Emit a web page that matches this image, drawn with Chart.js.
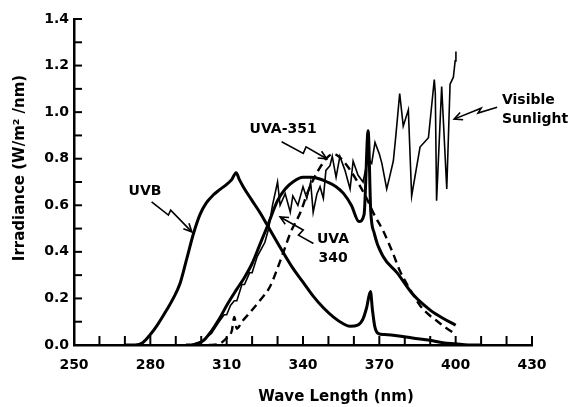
<!DOCTYPE html>
<html>
<head>
<meta charset="utf-8">
<script src="https://cdn.jsdelivr.net/npm/chart.js@4.4.1/dist/chart.umd.min.js"></script>
<style>
    html, body { margin: 0; padding: 0; background: #fff; }
    canvas { display: block; }
</style>
</head>
<body>
<canvas id="irradianceChart" width="587" height="407"></canvas>
<script>
// wavelength (nm) / irradiance (W/m2/nm)

const uvbNm  = [270, 274, 277, 280, 283, 286.4, 289, 291.7, 294.3, 297, 299.5, 302, 304.8, 307, 310, 312, 313.7, 315, 316.5, 320, 323, 325.7, 331, 336, 340, 344, 348, 352, 356, 358.5, 361.5, 363.5, 365, 366.5, 367.3, 368.2, 369.5, 372, 377, 383, 390, 395, 400, 405, 410];
const uvbVal = [0, 0, 0.01, 0.045, 0.09, 0.15, 0.20, 0.265, 0.37, 0.48, 0.56, 0.61, 0.645, 0.665, 0.69, 0.71, 0.74, 0.71, 0.68, 0.62, 0.57, 0.52, 0.42, 0.33, 0.27, 0.21, 0.16, 0.12, 0.09, 0.08, 0.085, 0.11, 0.16, 0.23, 0.15, 0.08, 0.05, 0.045, 0.04, 0.03, 0.02, 0.01, 0.005, 0, 0];

const uva340Nm  = [294, 296, 298, 301, 304, 307, 310, 314, 317, 320, 323, 326, 330, 333, 336, 340, 343, 346, 349.5, 353, 356, 359, 362, 364, 365.6, 366.6, 368, 371.5, 377, 383, 390, 395, 400];
const uva340Val = [0, 0, 0.005, 0.02, 0.06, 0.11, 0.17, 0.24, 0.29, 0.35, 0.43, 0.51, 0.62, 0.67, 0.70, 0.72, 0.72, 0.715, 0.70, 0.68, 0.65, 0.60, 0.53, 0.56, 0.92, 0.58, 0.48, 0.38, 0.31, 0.22, 0.15, 0.115, 0.085];

const uva351Nm  = [303, 307, 310, 312, 313, 314, 316, 320, 323, 327, 330, 333, 335, 339, 342, 346, 350, 352, 355, 358, 362, 365, 368, 371.5, 375.5, 378, 382, 386, 390, 393, 396, 399.5];
const uva351Val = [0, 0.005, 0.03, 0.06, 0.12, 0.07, 0.10, 0.15, 0.19, 0.25, 0.33, 0.42, 0.48, 0.57, 0.66, 0.75, 0.81, 0.82, 0.80, 0.76, 0.69, 0.63, 0.56, 0.49, 0.39, 0.32, 0.24, 0.17, 0.125, 0.10, 0.075, 0.05];

const sunNm  = [296, 300, 304, 307, 309, 310, 311.5, 313, 314, 316, 317, 319, 320, 322, 324, 325, 326.5, 328, 330, 331, 333, 335, 336, 338, 340, 341.5, 343, 344, 345.5, 346.7, 348, 349, 350.6, 351.5, 353, 354.5, 356.5, 358.5, 359.7, 361.6, 363.6, 365.5, 367, 368.3, 370, 371, 372.9, 374, 375.5, 376.5, 378, 379.4, 381.4, 382.7, 386, 389.3, 391.6, 392, 392.5, 394.5, 396.5, 397.8, 399.1, 399.8, 400.1];
const sunVal = [0, 0.015, 0.05, 0.10, 0.13, 0.13, 0.17, 0.19, 0.19, 0.26, 0.26, 0.31, 0.31, 0.38, 0.42, 0.44, 0.50, 0.60, 0.70, 0.60, 0.65, 0.57, 0.64, 0.60, 0.68, 0.63, 0.70, 0.57, 0.65, 0.68, 0.63, 0.75, 0.77, 0.81, 0.72, 0.81, 0.75, 0.67, 0.79, 0.73, 0.70, 0.80, 0.78, 0.87, 0.82, 0.78, 0.67, 0.72, 0.79, 0.90, 1.08, 0.94, 1.01, 0.64, 0.85, 0.89, 1.14, 1.08, 0.62, 1.11, 0.67, 1.12, 1.15, 1.22, 1.26];

const xLabels = [250, 280, 310, 340, 370, 400, 430];

// labels with zigzag arrows, positions in data units (nm, irradiance)
const notes = [
    { text: ["UVB"], at: [277.9, 0.66], align: "center",
      arrow: [[280.5, 0.615], [287.1, 0.558], [288, 0.579], [296.3, 0.486]] },
    { text: ["UVA-351"], at: [332.2, 0.927], align: "center",
      arrow: [[331.6, 0.873], [340.1, 0.823], [341.2, 0.851], [349.3, 0.80]] },
    { text: ["UVA", "340"], at: [351.8, 0.455], align: "center",
      arrow: [[344.1, 0.436], [338.2, 0.472], [340.1, 0.494], [331, 0.55]] },
    { text: ["Visible", "Sunlight"], at: [418.2, 1.05], align: "left",
      arrow: [[416.3, 1.021], [408.8, 0.996], [410, 1.017], [399.4, 0.970]] }
];

function toPoints(xs, ys) {
    return xs.map((x, i) => ({ x: x, y: ys[i] }));
}

const FONT = '"DejaVu Sans", sans-serif';

// tick marks pointing into the plot + axis titles + annotations
const decorPlugin = {
    id: "decor",
    afterDraw(chart) {
        const ctx = chart.ctx;
        const xs = chart.scales.x, ys = chart.scales.y;
        const area = chart.chartArea;
        ctx.save();
        ctx.strokeStyle = "#000";
        ctx.fillStyle = "#000";
        ctx.lineWidth = 2;

        xs.ticks.forEach(t => {
            const px = xs.getPixelForValue(t.value);
            ctx.beginPath();
            ctx.moveTo(px, area.bottom);
            ctx.lineTo(px, area.bottom - 9);
            ctx.stroke();
        });
        ys.ticks.forEach(t => {
            const py = ys.getPixelForValue(t.value);
            ctx.beginPath();
            ctx.moveTo(area.left, py);
            ctx.lineTo(area.left + 8, py);
            ctx.stroke();
        });

        // axis titles
        ctx.font = "bold 15px " + FONT;
        ctx.textAlign = "center";
        ctx.textBaseline = "middle";
        ctx.fillText("Wave Length (nm)", 336, 397);
        ctx.save();
        ctx.translate(20, 168);
        ctx.rotate(-Math.PI / 2);
        ctx.fillText("Irradiance (W/m\u00B2 /nm)", 0, 0);
        ctx.restore();

        // annotations
        ctx.font = "bold 14px " + FONT;
        ctx.lineWidth = 1.6;
        notes.forEach(n => {
            const lx = xs.getPixelForValue(n.at[0]);
            const ly = ys.getPixelForValue(n.at[1]);
            ctx.textAlign = n.align;
            n.text.forEach((s, i) => ctx.fillText(s, lx, ly + i * 19));

            const pts = n.arrow.map(p => [xs.getPixelForValue(p[0]), ys.getPixelForValue(p[1])]);
            ctx.beginPath();
            ctx.moveTo(pts[0][0], pts[0][1]);
            for (let i = 1; i < pts.length; i++) ctx.lineTo(pts[i][0], pts[i][1]);
            ctx.stroke();
            const a = pts[pts.length - 1], b = pts[pts.length - 2];
            const ang = Math.atan2(a[1] - b[1], a[0] - b[0]);
            ctx.beginPath();
            ctx.moveTo(a[0] - 9 * Math.cos(ang - 0.45), a[1] - 9 * Math.sin(ang - 0.45));
            ctx.lineTo(a[0], a[1]);
            ctx.lineTo(a[0] - 9 * Math.cos(ang + 0.45), a[1] - 9 * Math.sin(ang + 0.45));
            ctx.stroke();
        });
        ctx.restore();
    }
};

new Chart(document.getElementById("irradianceChart"), {
    type: "line",
    data: {
        datasets: [
            {
                label: "UVB",
                data: toPoints(uvbNm, uvbVal),
                borderColor: "#000",
                borderWidth: 3,
                cubicInterpolationMode: "monotone"
            },
            {
                label: "UVA-340",
                data: toPoints(uva340Nm, uva340Val),
                borderColor: "#000",
                borderWidth: 3,
                cubicInterpolationMode: "monotone"
            },
            {
                label: "UVA-351",
                data: toPoints(uva351Nm, uva351Val),
                borderColor: "#000",
                borderWidth: 2.4,
                borderDash: [8, 5],
                cubicInterpolationMode: "monotone"
            },
            {
                label: "Visible Sunlight",
                data: toPoints(sunNm, sunVal),
                borderColor: "#000",
                borderWidth: 1.6,
                tension: 0
            }
        ]
    },
    options: {
        responsive: false,
        animation: false,
        layout: { padding: { top: 19, right: 55, left: 0, bottom: 0 } },
        elements: { point: { radius: 0 } },
        plugins: {
            legend: { display: false },
            tooltip: { enabled: false }
        },
        scales: {
            x: {
                type: "linear",
                min: 250,
                max: 430,
                afterFit: scale => { scale.height = 62; },
                border: { display: true, color: "#000", width: 2.5 },
                grid: { drawOnChartArea: false, drawTicks: false },
                ticks: {
                    stepSize: 10,
                    autoSkip: false,
                    maxRotation: 0,
                    padding: 12,
                    color: "#000",
                    font: { family: FONT, size: 14, weight: "bold" },
                    callback: v => xLabels.includes(v) ? String(v) : ""
                }
            },
            y: {
                min: 0,
                max: 1.4,
                afterFit: scale => { scale.width = 74; },
                border: { display: true, color: "#000", width: 2.5 },
                grid: { drawOnChartArea: false, drawTicks: false },
                ticks: {
                    stepSize: 0.1,
                    autoSkip: false,
                    padding: 5,
                    color: "#000",
                    font: { family: FONT, size: 14, weight: "bold" },
                    callback: v => {
                        const k = Math.round(v * 10);
                        return k % 2 === 0 ? (k / 10).toFixed(1) : "";
                    }
                }
            }
        }
    },
    plugins: [decorPlugin]
});
</script>
</body>
</html>
